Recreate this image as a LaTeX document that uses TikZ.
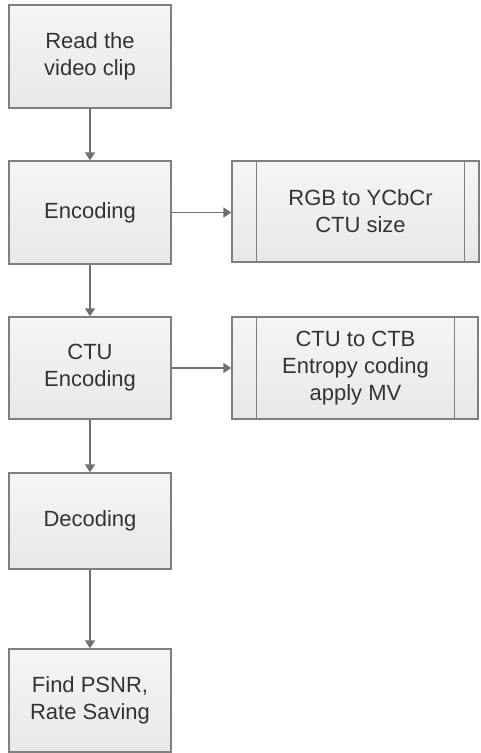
\documentclass[tikz,border=0pt]{standalone}
\usepackage{fontspec}
\setmainfont{Liberation Sans}
\usetikzlibrary{arrows.meta,calc}
\definecolor{edgegray}{HTML}{7F7F7F}
\definecolor{arrgray}{HTML}{707070}
\definecolor{txtgray}{HTML}{333333}
\begin{document}
\begin{tikzpicture}[x=1pt,y=-1pt,
  boxstyle/.style={draw=edgegray,line width=1.4pt,top color=white!96!black,bottom color=white!91!black,
    minimum width=162pt,inner sep=0pt,font=\fontsize{22}{27}\selectfont,text=txtgray,align=center},
  sidebox/.style={draw=edgegray,line width=1.4pt,top color=white!96!black,bottom color=white!91!black,inner sep=0pt},
  lbl/.style={font=\fontsize{22}{27}\selectfont,text=txtgray,align=center,inner sep=0pt},
  conn/.style={draw=arrgray,line width=1.6pt,-{Triangle[length=8pt,width=10pt]}}]
\useasboundingbox (0,0) rectangle (480,753);
\node[boxstyle,minimum height=103pt] (b1) at (90,56.5) {Read the\\video clip};
\node[boxstyle,minimum height=103pt] (b2) at (90,212.5) {Encoding};
\node[boxstyle,minimum height=102pt] (b3) at (90,368) {CTU\\Encoding};
\node[boxstyle,minimum height=96pt] (b4) at (90,521) {Decoding};
\node[boxstyle,minimum height=103pt] (b5) at (90,700.5) {Find PSNR,\\Rate Saving};
\node[sidebox,minimum width=247pt,minimum height=101pt] (r1) at (355.5,211.5) {};
\draw[edgegray,line width=1.2pt] ([xshift=25pt]r1.north west) -- ([xshift=25pt]r1.south west);
\draw[edgegray,line width=1.2pt] ([xshift=-15pt]r1.north east) -- ([xshift=-15pt]r1.south east);
\node[lbl] (t1) at (360.5,211.5) {RGB to YCbCr\\CTU size};
\node[sidebox,minimum width=246pt,minimum height=102pt] (r2) at (355,368) {};
\draw[edgegray,line width=1.2pt] ([xshift=25pt]r2.north west) -- ([xshift=25pt]r2.south west);
\draw[edgegray,line width=1.2pt] ([xshift=-24pt]r2.north east) -- ([xshift=-24pt]r2.south east);
\node[lbl] (t2) at (355.5,368) {CTU to CTB\\Entropy coding\\apply MV};
\draw[conn] (b1) -- (b2);
\draw[conn] (b2) -- (b3);
\draw[conn] (b3) -- (b4);
\draw[conn] (b4) -- (b5);
\draw[conn] (b2.east) -- (b2.east -| r1.west);
\draw[conn] (b3.east) -- (b3.east -| r2.west);
\end{tikzpicture}
\end{document}
